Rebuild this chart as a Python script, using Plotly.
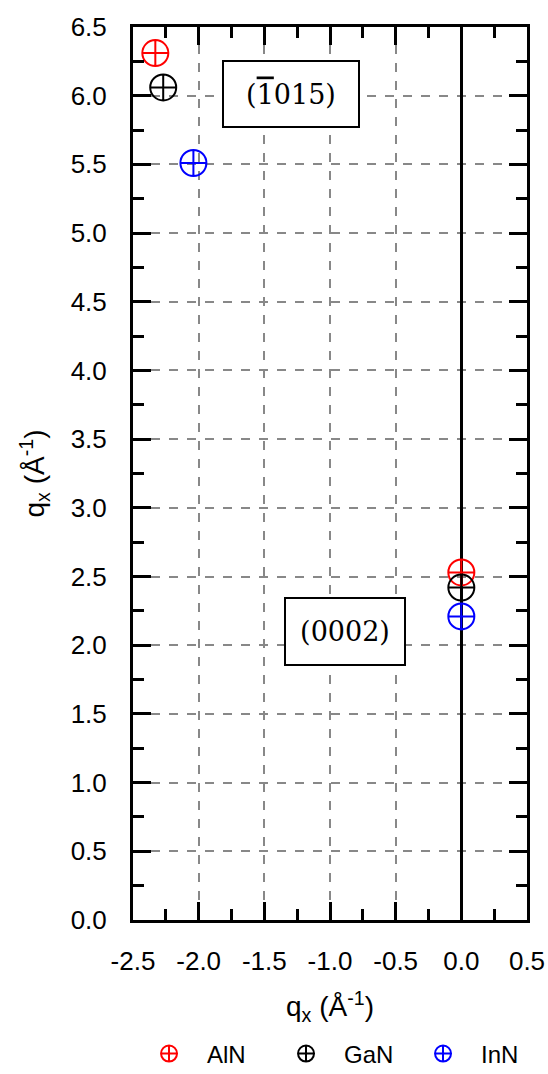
import plotly.graph_objects as go

series = ["AlN", "GaN", "InN"]
colors = ["red", "black", "blue"]
# (-1015) reflection and (0002) reflection positions
qx_1015 = [-2.33, -2.27, -2.04]
qz_1015 = [6.31, 6.06, 5.51]
qx_0002 = [0.0, 0.0, 0.0]
qz_0002 = [2.53, 2.42, 2.21]

x_ticks = [-2.5, -2.0, -1.5, -1.0, -0.5, 0.0, 0.5]
y_ticks = [0.0, 0.5, 1.0, 1.5, 2.0, 2.5, 3.0, 3.5, 4.0, 4.5, 5.0, 5.5, 6.0, 6.5]

fig = go.Figure()
for i, name in enumerate(series):
    fig.add_trace(go.Scatter(
        x=[qx_1015[i], qx_0002[i]], y=[qz_1015[i], qz_0002[i]],
        mode="markers", name=name,
        marker=dict(symbol="circle-cross-open", size=26, color=colors[i],
                    line=dict(width=2, color=colors[i])),
    ))

font_sans = "Liberation Sans, Arial, sans-serif"
font_serif = "DejaVu Serif, Liberation Serif, serif"
fig.add_annotation(x=-1.30, y=6.01, xref="x", yref="y",
                   text="(<span style='text-decoration:overline'>1</span>015)",
                   showarrow=False, font=dict(family=font_serif, size=27, color="black"),
                   bgcolor="white", bordercolor="black", borderwidth=2, borderpad=0,
                   width=134, height=64)
fig.add_annotation(x=-0.888, y=2.10, xref="x", yref="y", text="(0002)",
                   showarrow=False, font=dict(family=font_serif, size=27, color="black"),
                   bgcolor="white", bordercolor="black", borderwidth=2, borderpad=0,
                   width=118, height=65)

axis_common = dict(
    showline=True, linecolor="black", linewidth=3, mirror="allticks",
    ticks="inside", ticklen=18, tickwidth=3, tickcolor="black",
    showgrid=True, gridcolor="#888888", griddash="dash", gridwidth=1.5,
    tickfont=dict(family=font_sans, size=26, color="black"),
    title_font=dict(family=font_sans, size=28, color="black"),
    minor=dict(ticks="inside", ticklen=11, tickwidth=3, tickcolor="black", dtick=0.25, showgrid=False),
    automargin=False,
)

fig.update_xaxes(range=[-2.5, 0.5], tickvals=x_ticks, ticktext=[f"{v:.1f}" for v in x_ticks],
                 zeroline=True, zerolinecolor="black", zerolinewidth=2.5,
                 title_text="q<sub>x</sub> (Å<sup>-1</sup>)", title_standoff=22,
                 ticklabelstandoff=16, **axis_common)
fig.update_yaxes(range=[0, 6.5], tickvals=y_ticks, ticktext=[f"{v:.1f}" for v in y_ticks],
                 zeroline=False, title_text="q<sub>x</sub> (Å<sup>-1</sup>)", title_standoff=18,
                 ticklabelstandoff=18, **axis_common)

fig.update_layout(
    width=548, height=1074,
    margin=dict(l=133, r=21, t=27, b=154, autoexpand=False),
    plot_bgcolor="white", paper_bgcolor="white",
    showlegend=True,
    legend=dict(orientation="h", x=-0.005, xanchor="left", y=-0.150, yanchor="middle",
                font=dict(family=font_sans, size=24, color="black"), itemwidth=66,
                entrywidth=56),
)

fig.write_html("out.html")
